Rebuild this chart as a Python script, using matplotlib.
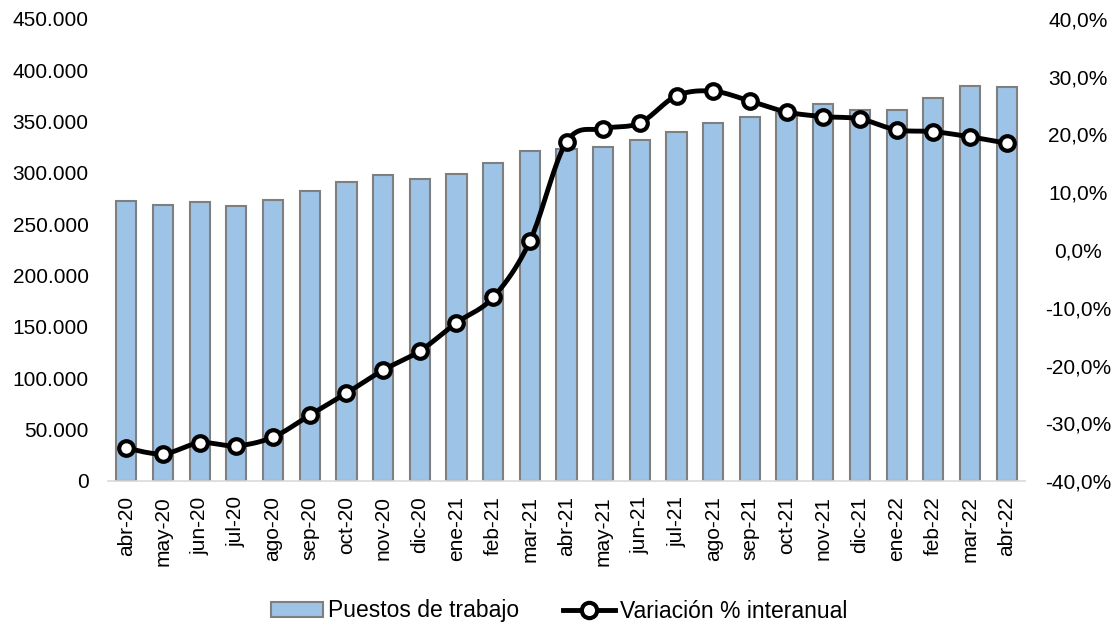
import numpy as np
import matplotlib
matplotlib.use('Agg')
import matplotlib.pyplot as plt
from matplotlib.ticker import FuncFormatter
from matplotlib.lines import Line2D
from matplotlib.patches import Patch

plt.rcParams['font.family'] = ['Liberation Sans', 'DejaVu Sans']

# ---- datos ----
meses = ["abr-20", "may-20", "jun-20", "jul-20", "ago-20", "sep-20", "oct-20",
         "nov-20", "dic-20", "ene-21", "feb-21", "mar-21", "abr-21", "may-21",
         "jun-21", "jul-21", "ago-21", "sep-21", "oct-21", "nov-21", "dic-21",
         "ene-22", "feb-22", "mar-22", "abr-22"]
puestos = [272700, 268900, 271800, 267900, 273700, 282500, 291300, 298100,
           294000, 299000, 309800, 321500, 323400, 325300, 332200, 340000,
           348700, 354600, 358500, 367300, 361000, 361400, 373100, 384800,
           384000]
variacion = [-34.3, -35.3, -33.4, -33.9, -32.4, -28.6, -24.8, -20.8, -17.5,
             -12.6, -8.2, 1.5, 18.7, 21.0, 22.0, 26.7, 27.5, 25.8, 23.9, 23.1,
             22.7, 20.8, 20.5, 19.6, 18.5]


def curva_suave(x, y, n=20, k=0.5):
    # solo para dibujar la curva suavizada (estilo Excel), los marcadores van en los datos
    px = np.concatenate([[x[0]], x, [x[-1]]]).astype(float)
    py = np.concatenate([[y[0]], y, [y[-1]]]).astype(float)
    xs, ys = [], []
    t = np.linspace(0, 1, n, endpoint=False)
    for i in range(1, len(px) - 2):
        p0, p1, p2, p3 = (np.array([px[j], py[j]]) for j in (i - 1, i, i + 1, i + 2))
        b1 = p1 + k * (p2 - p0) / 3
        b2 = p2 - k * (p3 - p1) / 3
        for tt in t:
            pt = (1 - tt) ** 3 * p1 + 3 * (1 - tt) ** 2 * tt * b1 + 3 * (1 - tt) * tt ** 2 * b2 + tt ** 3 * p2
            xs.append(pt[0])
            ys.append(pt[1])
    xs.append(x[-1])
    ys.append(y[-1])
    return np.array(xs), np.array(ys)


fig = plt.figure(figsize=(11.18, 6.28), dpi=100)
ax = fig.add_axes([108 / 1118, 1 - 481 / 628, (1025 - 108) / 1118, (481 - 19) / 628])
ax2 = ax.twinx()

x = np.arange(len(meses))
ax.bar(x, puestos, width=0.55, color='#9DC3E6', edgecolor='#7F7F7F', linewidth=1.5, zorder=2)
ax.set_xlim(-0.5, len(meses) - 0.5)
ax.set_ylim(0, 450000)
ax.set_yticks(np.arange(0, 450001, 50000))
ax.yaxis.set_major_formatter(FuncFormatter(lambda v, p: f"{int(v):,}".replace(",", ".")))
ax.set_xticks(x)
ax.set_xticklabels(meses, rotation=90, fontsize=15)
ax.tick_params(axis='y', labelsize=15, length=0, pad=14)
ax.tick_params(axis='x', length=0, pad=11)
for s in ['top', 'right', 'left']:
    ax.spines[s].set_visible(False)
ax.spines['bottom'].set_color('#D9D9D9')
ax.spines['bottom'].set_linewidth(1.2)

sx, sy = curva_suave(x, variacion)
ax2.plot(sx, sy, color='black', linewidth=3.5, solid_capstyle='round', zorder=3)
ax2.plot(x, variacion, linestyle='none', marker='o', markersize=10.5,
         markerfacecolor='white', markeredgecolor='black', markeredgewidth=3, zorder=4)
ax2.set_ylim(-40, 40)
ax2.set_yticks(np.arange(-40, 41, 10))
ax2.yaxis.set_major_formatter(FuncFormatter(lambda v, p: f"{v:.1f}%".replace(".", ",")))
ax2.tick_params(axis='y', labelsize=15, length=0, pad=38)
for lbl in ax2.get_yticklabels():
    lbl.set_horizontalalignment('center')
for s in ax2.spines.values():
    s.set_visible(False)

handles = [Patch(facecolor='#9DC3E6', edgecolor='#7F7F7F', linewidth=1.5),
           Line2D([0], [0], color='black', linewidth=3.5, marker='o', markersize=11,
                  markerfacecolor='white', markeredgecolor='black', markeredgewidth=3)]
fig.legend(handles, ["Puestos de trabajo", "Variación % interanual"],
           loc='center', bbox_to_anchor=(0.5, 1 - 611 / 628), ncol=2, frameon=False,
           fontsize=16.5, handlelength=2.3, handleheight=0.6, handletextpad=0.2,
           columnspacing=1.9)

fig.savefig('out.png', dpi=100)
